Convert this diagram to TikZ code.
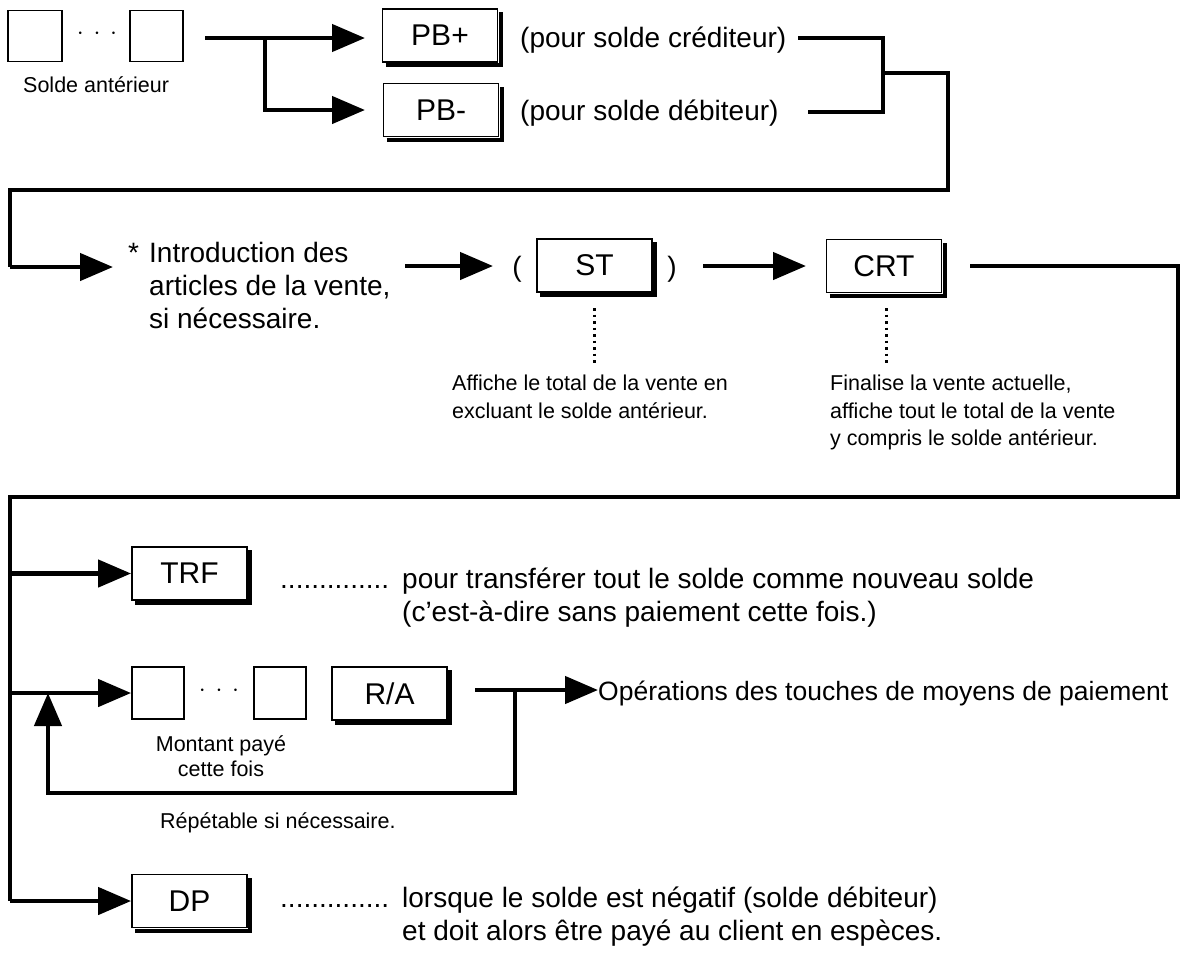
\documentclass[tikz,border=0pt]{standalone}
\usepackage{fontspec}
\setmainfont{Liberation Sans}
\usetikzlibrary{arrows.meta}
\begin{document}
\begin{tikzpicture}[x=1pt,y=-1pt,
  flow/.style={line width=4.5pt},
  arr/.style={flow,-{Triangle[length=33pt,width=27pt]}},
  sq/.style={draw,line width=1.8pt,minimum width=52pt,minimum height=52pt,inner sep=0pt},
  key/.style={draw,line width=1.8pt,minimum width=115pt,minimum height=53pt,inner sep=0pt,font=\fontsize{30}{34}\selectfont},
  big/.style={font=\fontsize{28}{33}\selectfont,inner sep=0pt,anchor=base west},
  small/.style={font=\fontsize{21.5}{27}\selectfont,inner sep=0pt,anchor=base west},
  dotsn/.style={font=\fontsize{28}{30}\selectfont,inner sep=0pt},
  dotl/.style={line width=3pt,dash pattern=on 2.5pt off 4pt},
  shadowl/.style={line width=4pt}]
\useasboundingbox (0,0) rectangle (1193,954);
% row 1
\node[sq,minimum width=54pt,minimum height=51pt] (s1) at (35,36) {};
\node[dotsn] (d1) at (97,34) {$\cdot\,\cdot\,\cdot$};
\node[sq,minimum width=53pt,minimum height=51pt] (s2) at (156.5,36) {};
\node[small] (sa) at (23,92) {Solde antérieur};
\node[key] (pbp) at (440,35.5) {PB+};
\node[key] (pbm) at (441,110) {PB-};
\node[big] (t1) at (520,47) {(pour solde créditeur)};
\node[big] (t2) at (520,120) {(pour solde débiteur)};
\coordinate (a0) at (205,38);
\coordinate (br1) at (265,38);
\draw[arr] (a0) -- (365,38);
\draw[arr] (br1) |- (365,110);
\coordinate (l1) at (798,38);
\coordinate (l2) at (808,112);
\coordinate (j1) at (883,38);
\coordinate (j2) at (883,112);
\coordinate (jm) at (883,73);
\coordinate (c1) at (948,73);
\coordinate (c2) at (948,190);
\coordinate (c3) at (10,190);
\coordinate (c4) at (10,267);
\draw[flow] (l1) -- (j1) -- (j2) -- (l2);
\draw[flow,line join=miter] (jm) -- (c1) -- (c2) -- (c3) -- (c4);
% row 2
\node[big] (star) at (128,262) {*};
\node[big] (i1) at (149,262) {Introduction des};
\node[big] (i2) at (149,295) {articles de la vente,};
\node[big] (i3) at (149,328) {si nécessaire.};
\coordinate (ic) at (113,267);
\draw[arr] (c4) -- (ic);
\node[big,anchor=base] (lp) at (517,276) {(};
\node[key] (st) at (594.5,265.5) {ST};
\node[big,anchor=base] (rp) at (672,276) {)};
\node[key] (crt) at (884,266) {CRT};
\coordinate (ia) at (405,266);
\draw[arr] (ia) -- (493,266);
\draw[arr] (703,266) -- (806,266);
\draw[dotl] (594,308) -- (594,363);
\draw[dotl] (886,308) -- (886,363);
\node[small] (st1) at (452,390) {Affiche le total de la vente en};
\node[small] (st2) at (452,418) {excluant le solde antérieur.};
\node[small] (cr1) at (830,390) {Finalise la vente actuelle,};
\node[small] (cr2) at (830,418) {affiche tout le total de la vente};
\node[small] (cr3) at (830,445) {y compris le solde antérieur.};
\coordinate (e1) at (970,266);
\coordinate (e2) at (1178,266);
\coordinate (e3) at (1178,497);
\coordinate (e4) at (10,497);
\coordinate (e5) at (10,901);
\draw[flow,line join=miter] (e1) -- (e2) -- (e3) -- (e4) -- (e5);
% TRF
\node[key] (trf) at (189.5,573.5) {TRF};
\node[big] (trfd) at (280,588) {..............};
\node[big] (trft) at (402,588) {pour transférer tout le solde comme nouveau solde};
\node[big] (trft2) at (402,621) {(c’est-à-dire sans paiement cette fois.)};
\draw[arr] (10,573.5) -- (trf.west);
% R/A
\node[sq] (s3) at (158,693) {};
\node[dotsn] (d3) at (219,691) {$\cdot\,\cdot\,\cdot$};
\node[sq] (s4) at (280,693) {};
\node[key] (ra) at (389.5,693.5) {R/A};
\node[small,anchor=base] (mp1) at (221,751) {Montant payé};
\node[small,anchor=base] (mp2) at (221,776) {cette fois};
\node[big,font=\fontsize{26.5}{30}\selectfont] (op) at (598,700) {Opérations des touches de moyens de paiement};
\coordinate (r1) at (475,690);
\coordinate (r2) at (515,690);
\coordinate (r3) at (515,793);
\coordinate (r4) at (48,793);
\coordinate (r5) at (48,693);
\coordinate (rs) at (10,693);
\draw[arr] (rs) -- (s3.west);
\draw[arr] (r1) -- (op.west |- r1);
\draw[arr,line join=miter] (r2) -- (r3) -- (r4) -- (r5);
\node[small] (rep) at (160,828) {Répétable si nécessaire.};
% DP
\node[key] (dp) at (189.5,901) {DP};
\node[big] (dpd) at (280,907) {..............};
\node[big] (dpt) at (402,907) {lorsque le solde est négatif (solde débiteur)};
\node[big] (dpt2) at (402,940) {et doit alors être payé au client en espèces.};
\draw[arr] (e5) -- (dp.west);
% key shadows
\foreach \n in {pbp,pbm,st,crt,trf,ra,dp}
  \draw[shadowl] ([xshift=4pt,yshift=-2.2pt]\n.south west) -| ([xshift=2.2pt,yshift=-4pt]\n.north east);
\end{tikzpicture}
\end{document}
